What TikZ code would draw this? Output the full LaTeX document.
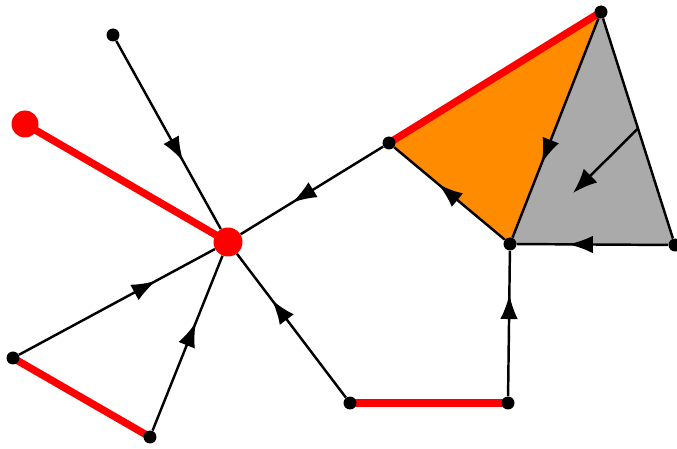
\documentclass[tikz,border=0pt]{standalone}
\usepackage{tikz}
\usetikzlibrary{arrows.meta,decorations.markings,backgrounds,calc}
\definecolor{faceorange}{HTML}{FF8C00}
\definecolor{facegray}{HTML}{AAAAAA}

\begin{document}
\begin{tikzpicture}[x=0.02cm,y=-0.02cm,
  vertex/.style={circle,fill=black,inner sep=0pt,minimum size=0.26cm},
  hub/.style={circle,fill=red,inner sep=0pt,minimum size=0.58cm},
  plain/.style={draw=black,line width=1.4pt},
  flow/.style={plain,postaction={decorate},decoration={markings,
    mark=at position #1 with {\arrow{Latex[length=14pt,width=10pt]}}}},
  flow/.default=0.68,
  cut/.style={draw=red,line width=4.2pt}]
  \useasboundingbox (0,0) rectangle (677,449);
\node[vertex] (a) at (113,35) {};
\node[hub,minimum size=0.54cm] (b) at (25,124) {};
\node[hub] (c) at (228,242) {};
\node[vertex] (d) at (389,143) {};
\node[vertex] (e) at (601,12) {};
\node[vertex] (f) at (510,244) {};
\node[vertex] (g) at (675,245) {};
\node[vertex] (h) at (13,358) {};
\node[vertex] (i) at (150,437) {};
\node[vertex] (j) at (350,403) {};
\node[vertex] (k) at (508,403) {};
\coordinate (s) at ($(e)!0.5!(g)$);
\coordinate (t) at (573,193);
% faces and cut edges
\begin{pgfonlayer}{background}
  \fill[faceorange] (d.center) -- (e.center) -- (f.center) -- cycle;
  \fill[facegray] (e.center) -- (g.center) -- (f.center) -- cycle;
  \path
  (b.center) edge[cut] (c.center)
  (h.center) edge[cut] (i.center)
  (j.center) edge[cut] (k.center)
  (d.center) edge[cut] (e.center);
\end{pgfonlayer}
\path
(a) edge[flow=0.64] (c)
(d) edge[flow=0.64] (c)
(h) edge[flow=0.7] (c)
(i) edge[flow=0.62] (c)
(j) edge[flow] (c)
(k) edge[flow=0.7] (f)
(f) edge[flow=0.6] (d)
(e) edge[flow=0.66] (f)
(g) edge[flow=0.66] (f)
(e) edge[plain] (g);
\draw[plain,-{Latex[length=14pt,width=11pt]}] (s) -- (t);
\end{tikzpicture}
\end{document}
